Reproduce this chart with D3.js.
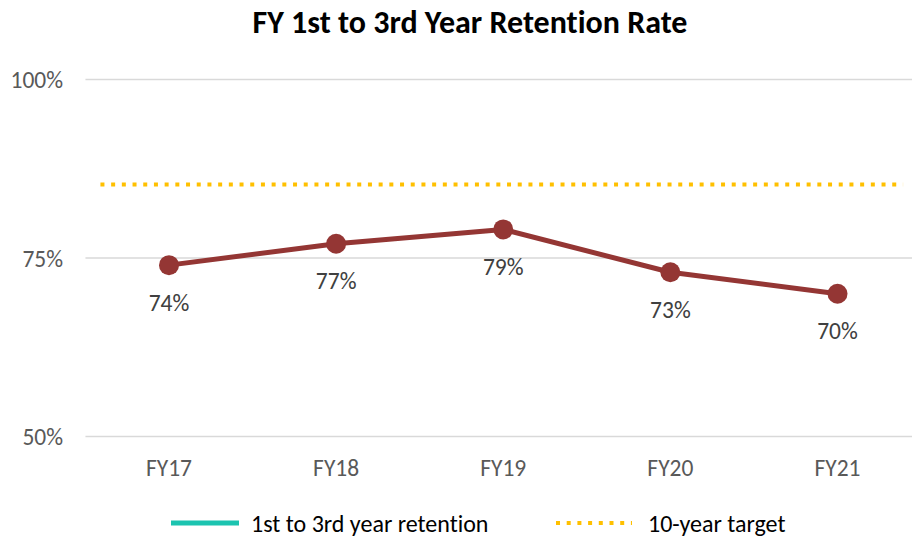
<!DOCTYPE html>
<html lang="en">
<head>
    <meta charset="UTF-8">
    <title>FY 1st to 3rd Year Retention Rate</title>
    <script src="https://cdn.jsdelivr.net/npm/d3@7/dist/d3.min.js"></script>
    <style>
        body {
            margin: 0;
            background: #fff;
        }

        svg {
            display: block;
            font-family: Carlito, Calibri, Lato, sans-serif;
            font-variant-ligatures: none;
        }

        svg .title {
            font-size: 32px;
            font-weight: bold;
            fill: #000;
        }

        svg .grid line {
            stroke: #d9d9d9;
            stroke-width: 1.5px;
        }

        svg .tick-label {
            font-size: 23.5px;
            fill: #595959;
        }

        svg .data-label {
            font-size: 23.5px;
            fill: #404040;
        }

        svg .legend-label {
            font-size: 24px;
            fill: #000;
        }
    </style>
</head>
<body>
    <svg width="912" height="537"></svg>
    <script>
        var categories = ['FY17', 'FY18', 'FY19', 'FY20', 'FY21'],
            retention = [74, 77, 79, 73, 70],
            target = 85.3,
            yTicks = [50, 75, 100],
            legendItems = ['1st to 3rd year retention', '10-year target'];

        var svg = d3.select('svg'),
            lineColor = '#943634',
            targetColor = '#ffc000',
            legendColor = '#1cc4b0';

        var x = d3.scalePoint()
            .domain(categories)
            .range([169, 837.5]);

        var y = d3.scaleLinear()
            .domain([50, 100])
            .range([436.5, 79.5]);

        var step = x.step(),
            left = x(categories[0]) - step / 2,
            right = x(categories[categories.length - 1]) + step / 2;

        svg.append('text')
            .classed('title', true)
            .attr('x', 470)
            .attr('y', 33)
            .attr('text-anchor', 'middle')
            .text('FY 1st to 3rd Year Retention Rate');

        // gridlines + y labels
        var grid = svg.append('g').classed('grid', true);
        grid.selectAll('line')
            .data(yTicks)
            .enter().append('line')
            .attr('x1', left)
            .attr('x2', right)
            .attr('y1', function(d) { return y(d); })
            .attr('y2', function(d) { return y(d); });

        svg.selectAll('.y-label')
            .data(yTicks)
            .enter().append('text')
            .classed('tick-label', true)
            .attr('x', 63)
            .attr('y', function(d) { return y(d) + 8.5; })
            .attr('text-anchor', 'end')
            .text(function(d) { return d + '%'; });

        svg.selectAll('.x-label')
            .data(categories)
            .enter().append('text')
            .classed('tick-label', true)
            .attr('x', function(d) { return x(d); })
            .attr('y', 475.5)
            .attr('text-anchor', 'middle')
            .text(function(d) { return d; });

        // target line
        svg.append('line')
            .attr('x1', left + 15)
            .attr('x2', right - 18)
            .attr('y1', y(target))
            .attr('y2', y(target))
            .attr('stroke', targetColor)
            .attr('stroke-width', 4)
            .attr('stroke-dasharray', '4,6.7');

        // retention series
        var line = d3.line()
            .x(function(d, i) { return x(categories[i]); })
            .y(function(d) { return y(d); });

        svg.append('path')
            .datum(retention)
            .attr('d', line)
            .attr('fill', 'none')
            .attr('stroke', lineColor)
            .attr('stroke-width', 5)
            .attr('stroke-linejoin', 'round');

        svg.selectAll('.marker')
            .data(retention)
            .enter().append('circle')
            .attr('cx', function(d, i) { return x(categories[i]); })
            .attr('cy', function(d) { return y(d); })
            .attr('r', 10)
            .attr('fill', lineColor);

        svg.selectAll('.data-label')
            .data(retention)
            .enter().append('text')
            .classed('data-label', true)
            .attr('x', function(d, i) { return x(categories[i]); })
            .attr('y', function(d) { return y(d) + 45.5; })
            .attr('text-anchor', 'middle')
            .text(function(d) { return d + '%'; });

        // legend
        var legendY = 523;
        svg.append('line')
            .attr('x1', 171).attr('x2', 239)
            .attr('y1', legendY).attr('y2', legendY)
            .attr('stroke', legendColor)
            .attr('stroke-width', 5);

        svg.append('line')
            .attr('x1', 556).attr('x2', 632)
            .attr('y1', legendY).attr('y2', legendY)
            .attr('stroke', targetColor)
            .attr('stroke-width', 4)
            .attr('stroke-dasharray', '4,6.7');

        svg.selectAll('.legend-label')
            .data(legendItems)
            .enter().append('text')
            .classed('legend-label', true)
            .attr('x', function(d, i) { return i === 0 ? 251 : 648; })
            .attr('y', legendY + 8.5)
            .text(function(d) { return d; });
    </script>
</body>
</html>
